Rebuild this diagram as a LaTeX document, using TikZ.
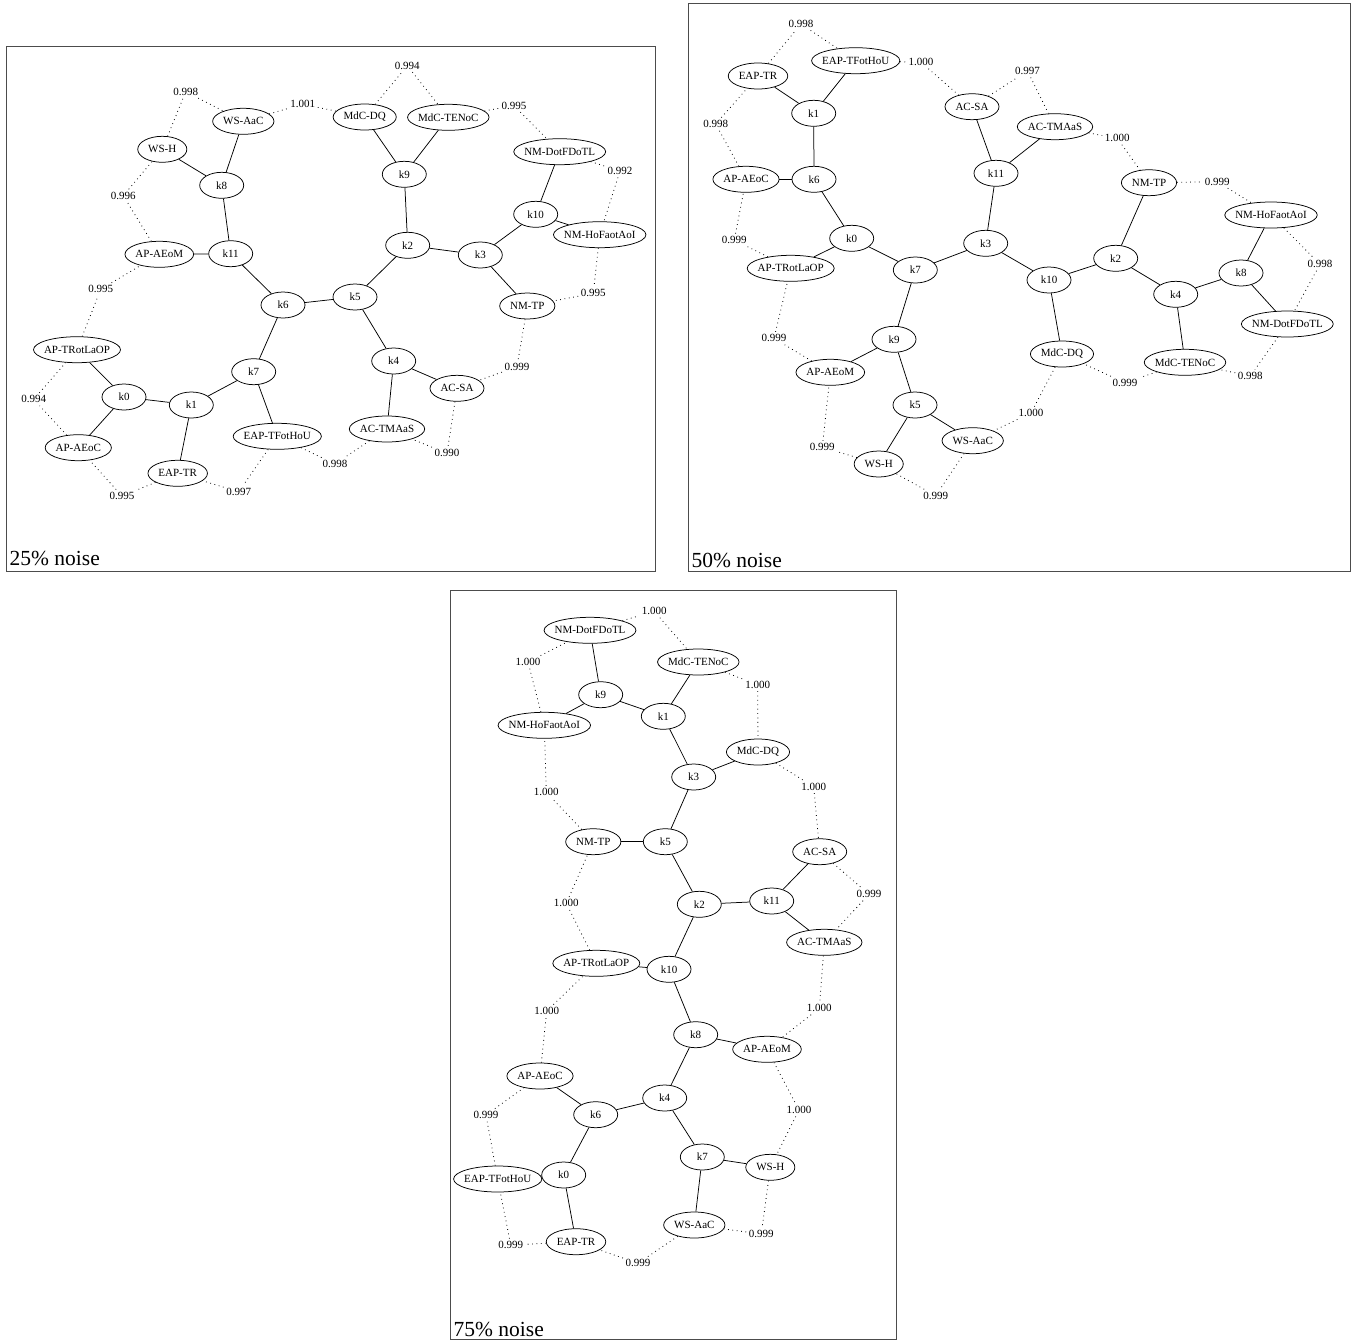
\documentclass[tikz,border=0pt]{standalone}
\usepackage{fontspec}
\setmainfont{Liberation Serif}
\usetikzlibrary{shapes.geometric}
\newcommand\gn[3]{\node[gnode={#3}] (#1) at (#2) {#3};}
\newcommand\wl[3]{\node[wlab] (#1) at (#2) {#3};}
\begin{document}
\begin{tikzpicture}[x=1pt,y=-1pt,
  gnode/.style={draw, ellipse, line width=0.75pt, inner xsep=-40pt, inner ysep=0pt,
    minimum height=26pt, minimum width={max(44,width("#1")+21)}},
  wlab/.style={inner sep=2.5pt},
  ed/.style={line width=0.75pt},
  dl/.style={line width=0.8pt, dash pattern=on 0.8pt off 3.6pt},
  frame/.style={draw=black!70, line width=0.9pt},
  ptitle/.style={anchor=base west, inner sep=0pt, font=\fontsize{21.5}{24}\selectfont}]
\fontsize{11}{13}\selectfont
\useasboundingbox (0,0) rectangle (1357,1342);

% ---------------- Panel 1: 25% noise ----------------
\draw[frame] (6.5,46) rectangle (655,571.5);
\node[ptitle] (atitle) at (9.5,565) {25\% noise};
\gn{aWSAaC}{243.3,121.3}{WS-AaC}
\gn{aWSH}{162.3,149.3}{WS-H}
\gn{ak8}{221.7,185.3}{k8}
\gn{aAEoM}{159.3,254.3}{AP-AEoM}
\gn{ak11}{230.7,253.7}{k11}
\gn{ak6}{283,305}{k6}
\gn{aMdCDQ}{364.7,117}{MdC-DQ}
\gn{aTENoC}{448.3,117.3}{MdC-TENoC}
\gn{aDotF}{559.7,151.7}{NM-DotFDoTL}
\gn{ak9}{404.3,174.3}{k9}
\gn{ak10}{535.7,214.3}{k10}
\gn{aHoF}{599.7,234.7}{NM-HoFaotAoI}
\gn{ak2}{407.7,245.3}{k2}
\gn{ak3}{480.3,255}{k3}
\gn{ak5}{355,297}{k5}
\gn{aNMTP}{527.3,306}{NM-TP}
\gn{ak4}{393.7,361}{k4}
\gn{aACSA}{457,388.3}{AC-SA}
\gn{aTMAaS}{387,429}{AC-TMAaS}
\gn{aTRot}{77,349.7}{AP-TRotLaOP}
\gn{ak7}{253.7,371.7}{k7}
\gn{ak0}{124,397}{k0}
\gn{ak1}{191.3,405}{k1}
\gn{aTFot}{277.3,436.3}{EAP-TFotHoU}
\gn{aAEoC}{78.3,447.7}{AP-AEoC}
\gn{aEAPTR}{177.7,473.3}{EAP-TR}

\foreach \u/\v in {aWSH/ak8, aWSAaC/ak8, ak8/ak11, aAEoM/ak11, ak11/ak6, ak6/ak5,
  ak6/ak7, ak7/ak1, ak7/aTFot, ak1/ak0, ak1/aEAPTR, ak0/aTRot, ak0/aAEoC, ak5/ak2,
  ak5/ak4, ak4/aTMAaS, ak4/aACSA, ak2/ak9, ak9/aMdCDQ, ak9/aTENoC, ak2/ak3,
  ak3/ak10, ak3/aNMTP, ak10/aDotF, ak10/aHoF}
  \draw[ed] (\u) -- (\v);

\wl{aL1}{185.7,91.7}{0.998}
\wl{aL2}{302.7,104.3}{1.001}
\wl{aL3}{407.3,65.7}{0.994}
\wl{aL4}{514,105.7}{0.995}
\wl{aL5}{620,171}{0.992}
\wl{aL6}{593.3,293.3}{0.995}
\wl{aL7}{517,366.7}{0.999}
\wl{aL8}{447,453.3}{0.990}
\wl{aL9}{335,464}{0.998}
\wl{aL10}{238.7,491.7}{0.997}
\wl{aL11}{122,496}{0.995}
\wl{aL12}{33.7,399.3}{0.994}
\wl{aL13}{100.7,289.3}{0.995}
\wl{aL14}{123.3,195.7}{0.996}
\foreach \u/\l/\v in {aWSH/aL1/aWSAaC, aWSAaC/aL2/aMdCDQ, aMdCDQ/aL3/aTENoC,
  aTENoC/aL4/aDotF, aDotF/aL5/aHoF, aHoF/aL6/aNMTP, aNMTP/aL7/aACSA,
  aACSA/aL8/aTMAaS, aTMAaS/aL9/aTFot, aTFot/aL10/aEAPTR, aEAPTR/aL11/aAEoC,
  aAEoC/aL12/aTRot, aTRot/aL13/aAEoM, aAEoM/aL14/aWSH}
  \draw[dl] (\u) -- (\l) -- (\v);

% ---------------- Panel 2: 50% noise ----------------
\draw[frame] (688.5,3) rectangle (1350,571.7);
\node[ptitle] (btitle) at (691.5,567.5) {50\% noise};
\gn{bTFot}{855.7,60.7}{EAP-TFotHoU}
\gn{bEAPTR}{758,76}{EAP-TR}
\gn{bk1}{813.7,113.3}{k1}
\gn{bACSA}{972,106.7}{AC-SA}
\gn{bk6}{814,179.3}{k6}
\gn{bAEoC}{746,179.3}{AP-AEoC}
\gn{bk11}{996,173.3}{k11}
\gn{bk0}{851.7,238.3}{k0}
\gn{bk3}{985.7,243.3}{k3}
\gn{bTRot}{790.7,268.3}{AP-TRotLaOP}
\gn{bk7}{915.3,270}{k7}
\gn{bTMAaS}{1055,126.7}{AC-TMAaS}
\gn{bNMTP}{1149,182.7}{NM-TP}
\gn{bHoF}{1271,215}{NM-HoFaotAoI}
\gn{bk2}{1115.7,258.3}{k2}
\gn{bk10}{1049,280}{k10}
\gn{bk8}{1241,273}{k8}
\gn{bk4}{1175.7,294.3}{k4}
\gn{bDotF}{1287.3,324}{NM-DotFDoTL}
\gn{bMdCDQ}{1062,354}{MdC-DQ}
\gn{bTENoC}{1185,362.3}{MdC-TENoC}
\gn{bk9}{894,339.3}{k9}
\gn{bAEoM}{830.3,372.3}{AP-AEoM}
\gn{bk5}{915,405}{k5}
\gn{bWSAaC}{972.7,440.7}{WS-AaC}
\gn{bWSH}{878.7,464}{WS-H}

\foreach \u/\v in {bEAPTR/bk1, bTFot/bk1, bk1/bk6, bAEoC/bk6, bk6/bk0, bk0/bTRot,
  bk0/bk7, bk7/bk3, bk7/bk9, bk3/bk11, bk11/bACSA, bk11/bTMAaS, bk3/bk10,
  bk10/bMdCDQ, bk10/bk2, bk2/bNMTP, bk2/bk4, bk4/bTENoC, bk4/bk8, bk8/bHoF,
  bk8/bDotF, bk9/bAEoM, bk9/bk5, bk5/bWSH, bk5/bWSAaC}
  \draw[ed] (\u) -- (\v);

\wl{bL1}{801,24}{0.998}
\wl{bL2}{921,62.3}{1.000}
\wl{bL3}{1027.5,71}{0.997}
\wl{bL4}{1117.3,138.3}{1.000}
\wl{bL5}{1217.3,181.7}{0.999}
\wl{bL6}{1320,264.3}{0.998}
\wl{bL7}{1250.3,376}{0.998}
\wl{bL8}{1125,382.7}{0.999}
\wl{bL9}{1031,413}{1.000}
\wl{bL10}{935.7,495.7}{0.999}
\wl{bL11}{822.3,447.3}{0.999}
\wl{bL12}{774,338.3}{0.999}
\wl{bL13}{734.3,240}{0.999}
\wl{bL14}{715.7,124}{0.998}
\foreach \u/\l/\v in {bEAPTR/bL1/bTFot, bTFot/bL2/bACSA, bACSA/bL3/bTMAaS,
  bTMAaS/bL4/bNMTP, bNMTP/bL5/bHoF, bHoF/bL6/bDotF, bDotF/bL7/bTENoC,
  bTENoC/bL8/bMdCDQ, bMdCDQ/bL9/bWSAaC, bWSAaC/bL10/bWSH, bWSH/bL11/bAEoM,
  bAEoM/bL12/bTRot, bTRot/bL13/bAEoC, bAEoC/bL14/bEAPTR}
  \draw[dl] (\u) -- (\l) -- (\v);

% ---------------- Panel 3: 75% noise ----------------
\draw[frame] (450.5,590.5) rectangle (896,1339);
\node[ptitle] (ctitle) at (453.5,1336) {75\% noise};
\gn{cDotF}{590,630.3}{NM-DotFDoTL}
\gn{cTENoC}{698.3,662}{MdC-TENoC}
\gn{ck9}{600.7,694.7}{k9}
\gn{ck1}{663.3,716.3}{k1}
\gn{cHoF}{544.3,725.3}{NM-HoFaotAoI}
\gn{cMdCDQ}{758,752}{MdC-DQ}
\gn{ck3}{693.7,777}{k3}
\gn{cNMTP}{593.3,841.7}{NM-TP}
\gn{ck5}{665.3,841.7}{k5}
\gn{cACSA}{819.7,851.7}{AC-SA}
\gn{ck2}{699.3,904.3}{k2}
\gn{ck11}{771.7,901}{k11}
\gn{cTMAaS}{824.3,942.3}{AC-TMAaS}
\gn{cTRot}{596.3,963.3}{AP-TRotLaOP}
\gn{ck10}{669,969.3}{k10}
\gn{ck8}{695.7,1034.7}{k8}
\gn{cAEoM}{767,1049.3}{AP-AEoM}
\gn{cAEoC}{540,1076}{AP-AEoC}
\gn{ck4}{664.7,1098}{k4}
\gn{ck6}{595.7,1114.7}{k6}
\gn{ck7}{702.3,1157}{k7}
\gn{cWSH}{770.3,1167.3}{WS-H}
\gn{ck0}{563.7,1175}{k0}
\gn{cTFot}{497.7,1179}{EAP-TFotHoU}
\gn{cWSAaC}{694.3,1225}{WS-AaC}
\gn{cEAPTR}{576,1241.7}{EAP-TR}

\foreach \u/\v in {cDotF/ck9, ck9/cHoF, ck9/ck1, ck1/cTENoC, ck1/ck3, ck3/cMdCDQ,
  ck3/ck5, ck5/cNMTP, ck5/ck2, ck2/ck11, ck11/cACSA, ck11/cTMAaS, ck2/ck10,
  ck10/cTRot, ck10/ck8, ck8/cAEoM, ck8/ck4, ck4/ck6, ck6/cAEoC, ck6/ck0,
  ck0/cTFot, ck0/cEAPTR, ck4/ck7, ck7/cWSH, ck7/cWSAaC}
  \draw[ed] (\u) -- (\v);

\wl{cL1}{654.3,611.3}{1.000}
\wl{cL2}{757.7,684.7}{1.000}
\wl{cL3}{813.7,786.7}{1.000}
\wl{cL4}{869,894.3}{0.999}
\wl{cL5}{819.3,1008.3}{1.000}
\wl{cL6}{799,1110}{1.000}
\wl{cL7}{761.3,1234}{0.999}
\wl{cL8}{638,1263.3}{0.999}
\wl{cL9}{510.7,1245}{0.999}
\wl{cL10}{486,1115}{0.999}
\wl{cL11}{546.7,1011}{1.000}
\wl{cL12}{566.3,903.3}{1.000}
\wl{cL13}{546.3,792.3}{1.000}
\wl{cL14}{528,662}{1.000}
\foreach \u/\l/\v in {cDotF/cL1/cTENoC, cTENoC/cL2/cMdCDQ, cMdCDQ/cL3/cACSA,
  cACSA/cL4/cTMAaS, cTMAaS/cL5/cAEoM, cAEoM/cL6/cWSH, cWSH/cL7/cWSAaC,
  cWSAaC/cL8/cEAPTR, cEAPTR/cL9/cTFot, cTFot/cL10/cAEoC, cAEoC/cL11/cTRot,
  cTRot/cL12/cNMTP, cNMTP/cL13/cHoF, cHoF/cL14/cDotF}
  \draw[dl] (\u) -- (\l) -- (\v);
\end{tikzpicture}
\end{document}
